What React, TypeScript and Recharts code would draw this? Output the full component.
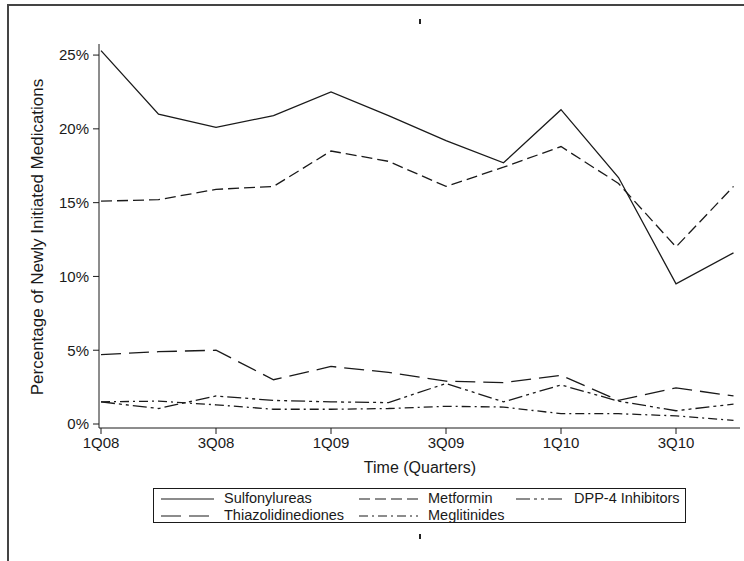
import React from 'react';
import { LineChart, Line, XAxis, YAxis } from 'recharts';

const quarters = ['1Q08', '2Q08', '3Q08', '4Q08', '1Q09', '2Q09', '3Q09', '4Q09', '1Q10', '2Q10', '3Q10', '4Q10'];
const sulfonylureas = [25.3, 21.0, 20.1, 20.9, 22.5, 20.9, 19.2, 17.7, 21.3, 16.7, 9.5, 11.6];
const metformin = [15.1, 15.2, 15.9, 16.1, 18.5, 17.8, 16.1, 17.4, 18.8, 16.3, 12.0, 16.1];
const thiazolidinediones = [4.7, 4.9, 5.0, 3.0, 3.9, 3.5, 2.9, 2.8, 3.3, 1.6, 2.45, 1.9];
const dpp4 = [1.5, 1.05, 1.9, 1.6, 1.5, 1.45, 2.75, 1.5, 2.65, 1.55, 0.9, 1.35];
const meglitinides = [1.5, 1.55, 1.3, 1.0, 1.0, 1.05, 1.2, 1.15, 0.7, 0.7, 0.55, 0.25];
const yTicks = [0, 5, 10, 15, 20, 25];
const xTicks = [0, 2, 4, 6, 8, 10];

const data = quarters.map((q, i) => ({
  idx: i,
  q,
  sulf: sulfonylureas[i],
  met: metformin[i],
  tzd: thiazolidinediones[i],
  dpp: dpp4[i],
  meg: meglitinides[i],
}));

const font = '"Liberation Sans", Arial, sans-serif';
const ink = '#1a1a1a';

const series = [
  { key: 'sulf', name: 'Sulfonylureas', dash: undefined },
  { key: 'met', name: 'Metformin', dash: '11 5' },
  { key: 'dpp', name: 'DPP-4 Inhibitors', dash: '14 4 3 4 3 4' },
  { key: 'tzd', name: 'Thiazolidinediones', dash: '20 8' },
  { key: 'meg', name: 'Meglitinides', dash: '9 4 2 4' },
];

const legendPos: Record<string, { x: number; y: number; w: number }> = {
  sulf: { x: 7, y: 10, w: 53 },
  met: { x: 205, y: 10, w: 59 },
  dpp: { x: 362, y: 10, w: 48 },
  tzd: { x: 7, y: 27, w: 53 },
  meg: { x: 205, y: 27, w: 59 },
};

const Legendish = () => (
  <div
    style={{
      position: 'absolute', left: 153, top: 488, width: 533, height: 35,
      border: `1px solid ${ink}`, boxSizing: 'border-box', fontFamily: font, fontSize: 14.5, color: ink,
    }}
  >
    {series.map(s => {
      const p = legendPos[s.key];
      return (
        <React.Fragment key={s.key}>
          <svg style={{ position: 'absolute', left: p.x, top: p.y - 3 }} width={p.w} height={6}>
            <line x1={0} y1={3} x2={p.w} y2={3} stroke={ink} strokeWidth={1.2} strokeDasharray={s.dash} />
          </svg>
          <span style={{ position: 'absolute', left: p.x + p.w + 10, top: p.y - 9, lineHeight: '17px', whiteSpace: 'nowrap' }}>
            {s.name}
          </span>
        </React.Fragment>
      );
    })}
  </div>
);

export default function App() {
  return (
    <div style={{ position: 'absolute', left: 0, top: 0, width: 744, height: 561, overflow: 'hidden', background: '#fff' }}>
      <div
        style={{
          position: 'absolute', left: 7, top: 4, width: 737, height: 557,
          borderTop: '2px solid #444', borderLeft: '2px solid #444', boxSizing: 'border-box',
        }}
      />
      <div style={{ position: 'absolute', left: 419, top: 19, width: 2, height: 5, background: '#222' }} />
      <div style={{ position: 'absolute', left: 419, top: 534, width: 2, height: 5, background: '#222' }} />

      <div style={{ position: 'absolute', left: 0, top: 0 }}>
        <LineChart width={744} height={561} data={data} margin={{ top: 44, right: 4, bottom: 93, left: 0 }}>
          <XAxis
            xAxisId="b"
            dataKey="idx"
            type="number"
            domain={[-0.035, 11.113]}
            ticks={xTicks}
            interval={0}
            tickFormatter={(v: number) => quarters[v]}
            height={40}
            tickSize={6}
            tickMargin={3}
            allowDataOverflow
            stroke={ink}
            tick={{ fill: ink, fontSize: 15, fontFamily: font }}
          />
          <XAxis xAxisId="t" dataKey="idx" type="number" domain={[-0.035, 11.113]} orientation="top" height={0} tick={false} tickLine={false} stroke={ink} />
          <YAxis
            yAxisId="l"
            domain={[-0.27, 25.75]}
            ticks={yTicks}
            interval={0}
            tickFormatter={(v: number) => `${v}%`}
            width={99}
            tickSize={6}
            tickMargin={4}
            allowDataOverflow
            stroke={ink}
            tick={{ fill: ink, fontSize: 15, fontFamily: font }}
          />
          <YAxis yAxisId="r" orientation="right" domain={[-0.27, 25.75]} width={0} tick={false} tickLine={false} stroke={ink} />
          {series.map(s => (
            <Line
              key={s.key}
              xAxisId="b"
              yAxisId="l"
              type="linear"
              dataKey={s.key}
              name={s.name}
              stroke={ink}
              strokeWidth={1.3}
              strokeDasharray={s.dash}
              dot={false}
              isAnimationActive={false}
            />
          ))}
        </LineChart>
      </div>

      <div
        style={{
          position: 'absolute', left: 38, top: 237, transform: 'translate(-50%, -50%) rotate(-90deg)',
          fontFamily: font, fontSize: 17, color: ink, whiteSpace: 'nowrap',
        }}
      >
        Percentage of Newly Initiated Medications
      </div>
      <div
        style={{
          position: 'absolute', left: 420, top: 468, transform: 'translate(-50%, -50%)',
          fontFamily: font, fontSize: 16, color: ink, whiteSpace: 'nowrap',
        }}
      >
        Time (Quarters)
      </div>
      <Legendish />
    </div>
  );
}
